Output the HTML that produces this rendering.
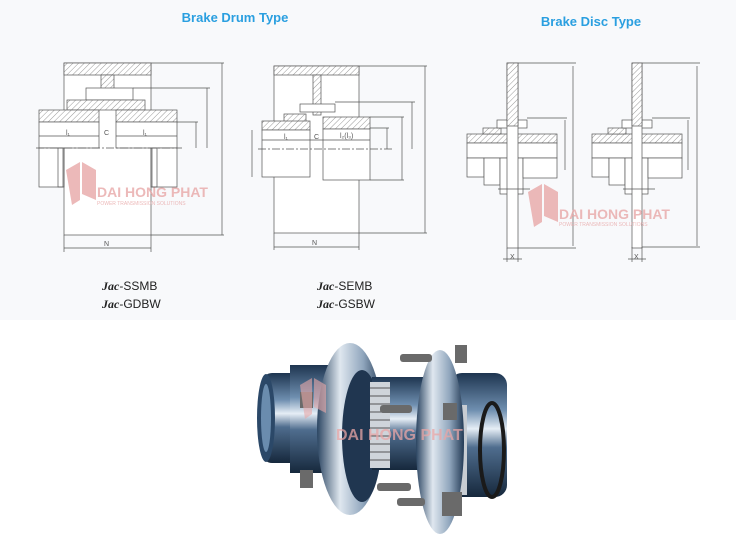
<!DOCTYPE html>
<html><head><meta charset="utf-8"><style>
html,body{margin:0;padding:0;background:#fff;}
svg{display:block;}
text{font-family:"Liberation Sans",sans-serif;}
</style></head><body>
<svg width="736" height="538" viewBox="0 0 736 538" xmlns="http://www.w3.org/2000/svg">
<defs>
<pattern id="h" width="4" height="4" patternUnits="userSpaceOnUse" patternTransform="rotate(45)">
<rect width="4" height="4" fill="#fff"/><line x1="0" y1="0" x2="0" y2="4" stroke="#999" stroke-width="1"/></pattern>
<linearGradient id="cyl" x1="0" y1="0" x2="0" y2="1">
<stop offset="0" stop-color="#1e3550"/><stop offset=".3" stop-color="#6f8fb0"/><stop offset=".45" stop-color="#e6eef6"/><stop offset=".6" stop-color="#4f6d8e"/><stop offset="1" stop-color="#16283c"/></linearGradient>
<linearGradient id="fl" x1="0" y1="0" x2="1" y2="0">
<stop offset="0" stop-color="#2b4562"/><stop offset=".35" stop-color="#dfe7ef"/><stop offset=".7" stop-color="#90a6bd"/><stop offset="1" stop-color="#233a55"/></linearGradient>
</defs>
<rect x="0" y="0" width="736" height="320" fill="#f8f9fb"/>
<text x="235" y="22" font-size="13" font-weight="bold" fill="#2a9fe0" text-anchor="middle">Brake  Drum  Type</text>
<text x="591" y="26" font-size="13" font-weight="bold" fill="#2a9fe0" text-anchor="middle">Brake  Disc  Type</text>

<g stroke="#555" stroke-width="0.7" fill="none">
<rect x="64" y="63" width="87" height="172" fill="#fff"/>
<rect x="64" y="63" width="87" height="12" fill="url(#h)"/>
<rect x="101" y="75" width="13" height="22" fill="url(#h)"/>
<rect x="86" y="88" width="47" height="12" fill="#fff"/>
<rect x="67" y="100" width="78" height="10" fill="url(#h)"/>
<rect x="39" y="110" width="60" height="12" fill="url(#h)"/>
<rect x="116" y="110" width="61" height="12" fill="url(#h)"/>
<rect x="39" y="122" width="60" height="26" fill="#fff"/>
<rect x="116" y="122" width="61" height="26" fill="#fff"/>
<rect x="39" y="148" width="25" height="39" fill="#fff"/>
<rect x="58" y="148" width="5" height="39"/>
<rect x="151" y="148" width="26" height="39" fill="#fff"/>
<rect x="152" y="148" width="5" height="39"/>
<line x1="36" y1="148" x2="182" y2="148" stroke-dasharray="8 2 2 2"/>
<line x1="39" y1="136" x2="99" y2="136"/><line x1="116" y1="136" x2="177" y2="136"/>
<line x1="151" y1="63" x2="224" y2="63"/><line x1="151" y1="235" x2="224" y2="235"/>
<line x1="222" y1="63" x2="222" y2="235"/>
<line x1="133" y1="88" x2="210" y2="88"/><line x1="207" y1="88" x2="207" y2="148"/>
<line x1="177" y1="122" x2="198" y2="122"/><line x1="196" y1="122" x2="196" y2="148"/>
<line x1="64" y1="235" x2="64" y2="252"/><line x1="151" y1="235" x2="151" y2="252"/>
<line x1="64" y1="248" x2="151" y2="248"/>
<rect x="274" y="66" width="85" height="167" fill="#fff"/>
<rect x="274" y="66" width="85" height="9" fill="url(#h)"/>
<rect x="313" y="75" width="8" height="40" fill="url(#h)"/>
<rect x="300" y="104" width="35" height="8" fill="#fff"/>
<rect x="284" y="114" width="22" height="8" fill="url(#h)"/>
<rect x="262" y="121" width="48" height="9" fill="url(#h)"/>
<rect x="262" y="130" width="48" height="47" fill="#fff"/>
<rect x="323" y="117" width="47" height="12" fill="url(#h)"/>
<rect x="323" y="129" width="47" height="51" fill="#fff"/>
<line x1="258" y1="149" x2="392" y2="149" stroke-dasharray="8 2 2 2"/>
<line x1="262" y1="140" x2="370" y2="140"/>
<line x1="359" y1="66" x2="427" y2="66"/><line x1="359" y1="233" x2="427" y2="233"/><line x1="425" y1="66" x2="425" y2="233"/>
<line x1="335" y1="102" x2="415" y2="102"/><line x1="412" y1="102" x2="412" y2="149"/>
<line x1="370" y1="117" x2="404" y2="117"/><line x1="402" y1="117" x2="402" y2="180"/><line x1="370" y1="180" x2="404" y2="180"/>
<line x1="370" y1="128" x2="389" y2="128"/><line x1="387" y1="128" x2="387" y2="149"/>
<line x1="252" y1="130" x2="252" y2="177"/>
<line x1="274" y1="233" x2="274" y2="250"/><line x1="359" y1="233" x2="359" y2="250"/><line x1="274" y1="247" x2="359" y2="247"/>
<rect x="467" y="134" width="90" height="9" fill="url(#h)"/>
<rect x="467" y="143" width="90" height="15" fill="#fff"/>
<rect x="467" y="158" width="17" height="19" fill="#fff"/>
<rect x="484" y="158" width="16" height="27" fill="#fff"/>
<rect x="500" y="158" width="23" height="36" fill="#fff"/>
<rect x="523" y="158" width="34" height="20" fill="#fff"/>
<rect x="483" y="128" width="18" height="6" fill="url(#h)"/>
<rect x="497" y="120" width="30" height="8" fill="#fff"/>
<rect x="507" y="63" width="11" height="185" fill="#fff"/>
<rect x="507" y="63" width="11" height="63" fill="url(#h)"/>
<line x1="498" y1="189" x2="530" y2="189"/>
<line x1="518" y1="63" x2="576" y2="63"/><line x1="518" y1="248" x2="576" y2="248"/><line x1="573" y1="66" x2="573" y2="246"/>
<line x1="527" y1="118" x2="567" y2="118"/><line x1="565" y1="120" x2="565" y2="170"/>
<line x1="507" y1="248" x2="507" y2="262"/><line x1="518" y1="248" x2="518" y2="262"/><line x1="503" y1="259" x2="522" y2="259"/>
<rect x="592" y="134" width="90" height="9" fill="url(#h)"/>
<rect x="592" y="143" width="90" height="15" fill="#fff"/>
<rect x="592" y="158" width="17" height="19" fill="#fff"/>
<rect x="609" y="158" width="16" height="27" fill="#fff"/>
<rect x="625" y="158" width="23" height="36" fill="#fff"/>
<rect x="648" y="158" width="34" height="20" fill="#fff"/>
<rect x="608" y="128" width="18" height="6" fill="url(#h)"/>
<rect x="622" y="120" width="30" height="8" fill="#fff"/>
<rect x="632" y="63" width="10" height="185" fill="#fff"/>
<rect x="632" y="63" width="10" height="63" fill="url(#h)"/>
<line x1="623" y1="189" x2="655" y2="189"/>
<line x1="642" y1="63" x2="700" y2="63"/><line x1="642" y1="247" x2="700" y2="247"/><line x1="697" y1="66" x2="697" y2="246"/>
<line x1="652" y1="118" x2="690" y2="118"/><line x1="688" y1="120" x2="688" y2="170"/>
<line x1="632" y1="247" x2="632" y2="262"/><line x1="642" y1="247" x2="642" y2="262"/><line x1="628" y1="259" x2="646" y2="259"/>
</g>
<g font-size="7" fill="#555">
<text x="66" y="135">l₁</text><text x="104" y="135">C</text><text x="143" y="135">l₁</text>
<text x="104" y="246">N</text><text x="312" y="245">N</text>
<text x="284" y="139">l₁</text><text x="314" y="139">C</text><text x="340" y="138">l₂(l₃)</text>
<text x="510" y="259">X</text><text x="634" y="259">X</text>
</g>
<g font-size="12" fill="#222">
<text x="102" y="290"><tspan font-family="Liberation Serif" font-style="italic" font-weight="bold">Jac</tspan>-SSMB</text>
<text x="102" y="308"><tspan font-family="Liberation Serif" font-style="italic" font-weight="bold">Jac</tspan>-GDBW</text>
<text x="317" y="290"><tspan font-family="Liberation Serif" font-style="italic" font-weight="bold">Jac</tspan>-SEMB</text>
<text x="317" y="308"><tspan font-family="Liberation Serif" font-style="italic" font-weight="bold">Jac</tspan>-GSBW</text>
</g>
<g fill="#e8a8a8" opacity="0.8">
<path d="M66 170 l14 -8 v38 l-8 5 z M82 162 l14 8 v30 l-14 -6 z"/>
<text x="97" y="197" font-size="14" font-weight="bold">DAI HONG PHAT</text>
<text x="97" y="205" font-size="5">POWER TRANSMISSION SOLUTIONS</text>
<path d="M528 192 l14 -8 v38 l-8 5 z M544 184 l14 8 v30 l-14 -6 z"/>
<text x="559" y="219" font-size="14" font-weight="bold">DAI HONG PHAT</text>
<text x="559" y="226" font-size="5">POWER TRANSMISSION SOLUTIONS</text>
</g>
<!-- coupling photo -->
<g>
<rect x="262" y="373" width="50" height="90" rx="10" fill="url(#cyl)"/>
<ellipse cx="266" cy="418" rx="9" ry="44" fill="#2b4868"/>
<ellipse cx="266" cy="418" rx="5" ry="34" fill="#6a8cae"/>
<rect x="290" y="365" width="40" height="108" fill="url(#cyl)"/>
<ellipse cx="350" cy="429" rx="33" ry="86" fill="url(#fl)"/>
<ellipse cx="362" cy="436" rx="20" ry="66" fill="#203650"/>
<rect x="372" y="377" width="70" height="93" fill="url(#cyl)"/>
<rect x="370" y="382" width="20" height="86" fill="#cfd4da"/>
<g stroke="#555" stroke-width="1"><line x1="370" y1="388" x2="390" y2="388"/><line x1="370" y1="396" x2="390" y2="396"/><line x1="370" y1="404" x2="390" y2="404"/><line x1="370" y1="412" x2="390" y2="412"/><line x1="370" y1="420" x2="390" y2="420"/><line x1="370" y1="428" x2="390" y2="428"/><line x1="370" y1="436" x2="390" y2="436"/><line x1="370" y1="444" x2="390" y2="444"/><line x1="370" y1="452" x2="390" y2="452"/><line x1="370" y1="460" x2="390" y2="460"/></g>
<rect x="450" y="373" width="57" height="124" rx="12" fill="url(#cyl)"/>
<ellipse cx="492" cy="450" rx="12" ry="47" fill="none" stroke="#1a1a1a" stroke-width="4"/>
<rect x="453" y="405" width="14" height="90" fill="#c8cdd3"/>
<ellipse cx="440" cy="442" rx="24" ry="92" fill="url(#fl)"/>
<g fill="#6a6a6a"><rect x="400" y="354" width="32" height="8" rx="3"/><rect x="380" y="405" width="32" height="8" rx="3"/><rect x="377" y="483" width="34" height="8" rx="3"/><rect x="397" y="498" width="28" height="8" rx="3"/>
<rect x="300" y="392" width="13" height="16"/><rect x="300" y="470" width="13" height="18"/><rect x="443" y="403" width="14" height="17"/><rect x="442" y="492" width="20" height="24"/><rect x="455" y="345" width="12" height="18"/></g>
<path d="M300 385 l12 -7 v36 l-7 5 z M314 378 l12 7 v28 l-12 -6 z" fill="#e8a8a8" opacity="0.6"/>
<text x="336" y="440" font-size="16" font-weight="bold" fill="#e9a6a6" opacity="0.75">DAI HONG PHAT</text>
</g>
</svg>
</body></html>
